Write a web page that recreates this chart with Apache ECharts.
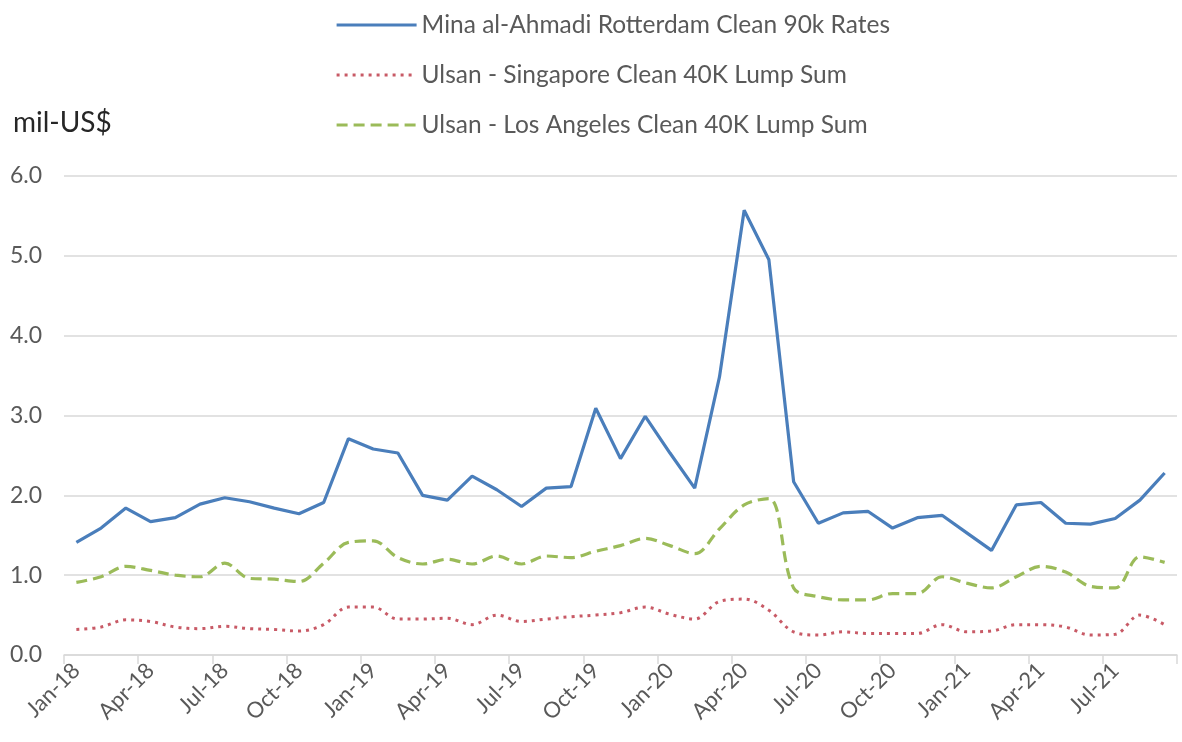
<!DOCTYPE html>
<html>
<head>
<meta charset="utf-8">
<script src="https://cdn.jsdelivr.net/npm/echarts@6/dist/echarts.min.js"></script>
<style>
  html, body { margin: 0; padding: 0; background: #ffffff; }
  #chart { width: 1182px; height: 742px; }
</style>
</head>
<body>
<div id="chart"></div>
<script>
// Monthly categories, Jan-18 .. Sep-21
const months = [
  'Jan-18','Feb-18','Mar-18','Apr-18','May-18','Jun-18','Jul-18','Aug-18','Sep-18','Oct-18','Nov-18','Dec-18',
  'Jan-19','Feb-19','Mar-19','Apr-19','May-19','Jun-19','Jul-19','Aug-19','Sep-19','Oct-19','Nov-19','Dec-19',
  'Jan-20','Feb-20','Mar-20','Apr-20','May-20','Jun-20','Jul-20','Aug-20','Sep-20','Oct-20','Nov-20','Dec-20',
  'Jan-21','Feb-21','Mar-21','Apr-21','May-21','Jun-21','Jul-21','Aug-21','Sep-21'
];

// Mina al-Ahmadi Rotterdam Clean 90k Rates (mil-US$)
const minaRotterdam = [
  1.41, 1.59, 1.84, 1.67, 1.72, 1.89, 1.97, 1.92, 1.84, 1.77, 1.91, 2.71,
  2.58, 2.53, 2.00, 1.94, 2.24, 2.07, 1.86, 2.09, 2.11, 3.09, 2.46, 2.99,
  2.53, 2.09, 3.48, 5.57, 4.95, 2.17, 1.65, 1.78, 1.80, 1.59, 1.72, 1.75,
  1.53, 1.31, 1.88, 1.91, 1.65, 1.64, 1.71, 1.94, 2.28
];

// Ulsan - Singapore Clean 40K Lump Sum (mil-US$)
const ulsanSingapore = [
  0.32, 0.35, 0.44, 0.42, 0.35, 0.33, 0.36, 0.33, 0.32, 0.30, 0.38, 0.60,
  0.60, 0.45, 0.45, 0.46, 0.38, 0.50, 0.42, 0.45, 0.48, 0.50, 0.53, 0.60,
  0.51, 0.45, 0.67, 0.70, 0.56, 0.29, 0.25, 0.29, 0.27, 0.27, 0.27, 0.38,
  0.29, 0.30, 0.38, 0.38, 0.35, 0.25, 0.26, 0.50, 0.38
];

// Ulsan - Los Angeles Clean 40K Lump Sum (mil-US$)
const ulsanLosAngeles = [
  0.91, 0.98, 1.11, 1.06, 1.00, 0.98, 1.15, 0.96, 0.95, 0.92, 1.15, 1.41,
  1.43, 1.22, 1.14, 1.20, 1.14, 1.24, 1.14, 1.24, 1.22, 1.30, 1.37, 1.46,
  1.37, 1.27, 1.58, 1.88, 1.96, 0.84, 0.73, 0.69, 0.69, 0.77, 0.77, 0.98,
  0.90, 0.84, 0.98, 1.11, 1.04, 0.86, 0.84, 1.23, 1.16
];

const seriesNames = [
  'Mina al-Ahmadi Rotterdam Clean 90k Rates',
  'Ulsan - Singapore Clean 40K Lump Sum',
  'Ulsan - Los Angeles Clean 40K Lump Sum'
];

const FONT = 'Lato, "Open Sans", sans-serif';
const TEXT_GREY = '#595959';
const RULE_GREY = '#d9d9d9';

const chart = echarts.init(document.getElementById('chart'), null, { renderer: 'canvas' });

chart.setOption({
  backgroundColor: '#ffffff',
  animation: false,
  textStyle: { fontFamily: FONT },
  title: {
    text: 'mil-US$',
    left: 8,
    top: 104,
    textStyle: { fontFamily: FONT, fontSize: 28, fontWeight: 'normal', color: '#262626' }
  },
  legend: {
    orient: 'vertical',
    left: 330,
    top: 7,
    itemWidth: 80,
    itemHeight: 14,
    itemGap: 24,
    // line samples only, no marker dot
    itemStyle: { opacity: 0 },
    lineStyle: { width: 3.2 },
    textStyle: { fontFamily: FONT, fontSize: 24.5, color: TEXT_GREY, lineHeight: 26 },
    data: seriesNames
  },
  grid: { left: 64, right: 5, top: 176, bottom: 87, containLabel: false },
  xAxis: {
    type: 'category',
    data: months,
    boundaryGap: true,
    axisLine: { show: true, lineStyle: { color: RULE_GREY, width: 1.5 } },
    axisTick: { show: true, interval: 2, length: 9, lineStyle: { color: RULE_GREY, width: 1.5 } },
    axisLabel: {
      interval: 2,
      rotate: 45,
      margin: 12,
      fontFamily: FONT,
      fontSize: 22,
      color: TEXT_GREY
    },
    splitLine: { show: false }
  },
  yAxis: {
    type: 'value',
    min: 0,
    max: 6,
    interval: 1,
    axisLine: { show: false },
    axisTick: { show: false },
    axisLabel: {
      margin: 22,
      fontFamily: FONT,
      fontSize: 23,
      color: TEXT_GREY,
      formatter: v => v.toFixed(1)
    },
    splitLine: { show: true, lineStyle: { color: RULE_GREY, width: 1.5 } }
  },
  series: [
    {
      name: seriesNames[0],
      type: 'line',
      data: minaRotterdam,
      symbol: 'none',
      smooth: false,
      z: 4,
      lineStyle: { color: '#4a7ebb', width: 3.2, type: 'solid' },
      itemStyle: { color: '#4a7ebb' }
    },
    {
      name: seriesNames[1],
      type: 'line',
      data: ulsanSingapore,
      symbol: 'none',
      smooth: 0.35,
      z: 2,
      lineStyle: { color: '#c85a66', width: 3, type: [3, 5], cap: 'butt' },
      itemStyle: { color: '#c85a66' }
    },
    {
      name: seriesNames[2],
      type: 'line',
      data: ulsanLosAngeles,
      symbol: 'none',
      smooth: 0.35,
      z: 3,
      lineStyle: { color: '#9bbb59', width: 3.2, type: [11, 6], cap: 'butt' },
      itemStyle: { color: '#9bbb59' }
    }
  ]
});
</script>
</body>
</html>
